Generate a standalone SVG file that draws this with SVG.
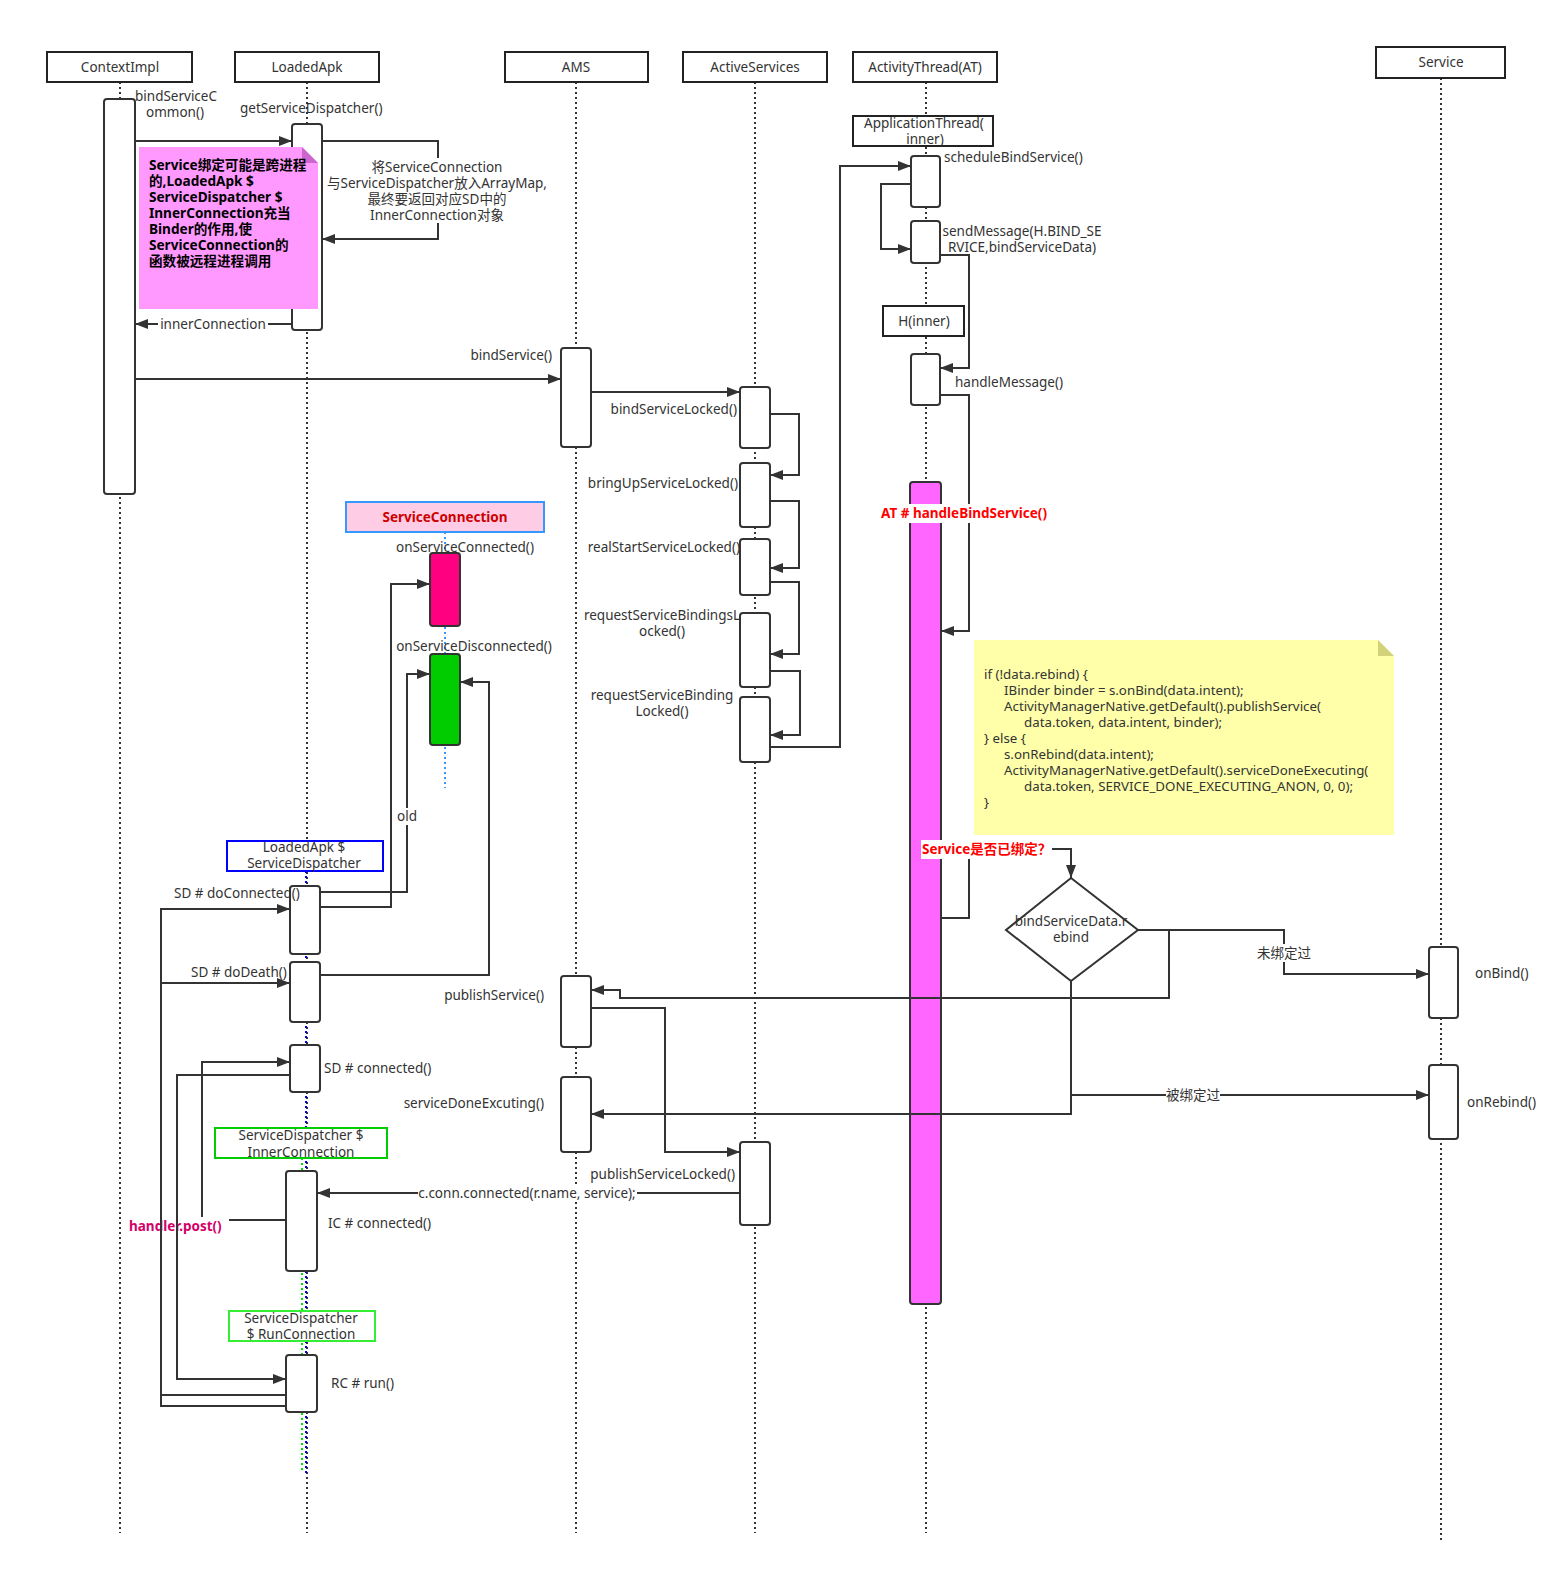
<svg xmlns="http://www.w3.org/2000/svg" width="1568" height="1576" viewBox="0 0 1568 1576">
<style>
text{font-family:"Noto Sans","Noto Sans CJK SC",sans-serif;font-size:13.5px;fill:#333}
.hdr{fill:#fff;stroke:#222;stroke-width:2}
.life{stroke:#333;stroke-width:2;stroke-dasharray:2 3;fill:none}
.act{fill:#fff;stroke:#333;stroke-width:2}
.c{fill:none;stroke:#333;stroke-width:2}
.a{fill:none;stroke:#333;stroke-width:2;marker-end:url(#arr)}
.bg{fill:#fff}
.m{text-anchor:middle}
.e{text-anchor:end}
.b{font-weight:bold}
.red{fill:#ff0000;font-weight:bold}
.code{font-size:13.3px}
.pn{font-size:13.6px;font-weight:bold;fill:#000}
</style>
<defs>
<marker id="arr" markerUnits="userSpaceOnUse" markerWidth="13" markerHeight="10" refX="13" refY="5" orient="auto">
<path d="M0,0 L13,5 L0,10 z" fill="#333"/>
</marker>
</defs>
<rect width="1568" height="1576" fill="#fff"/>

<g id="lifelines">
<line class="life" x1="120" y1="82" x2="120" y2="1533"/>
<line class="life" x1="307" y1="82" x2="307" y2="1533"/>
<line class="life" x1="576" y1="82" x2="576" y2="1533"/>
<line class="life" x1="755" y1="82" x2="755" y2="1533"/>
<line class="life" x1="926" y1="82" x2="926" y2="1533"/>
<line class="life" x1="1441" y1="78" x2="1441" y2="1543"/>
<line x1="306" y1="871" x2="306" y2="1473" stroke="#0000ff" stroke-width="2" stroke-dasharray="2 3"/>
<line x1="302" y1="1158" x2="302" y2="1473" stroke="#00dd00" stroke-width="2" stroke-dasharray="2 3"/>
<line x1="445" y1="532" x2="445" y2="788" stroke="#3399ff" stroke-width="2" stroke-dasharray="2 3"/>
</g>

<g id="ContextImpl">
<rect class="hdr" x="47" y="52" width="145" height="30"/>
<text class="m" x="120" y="72">ContextImpl</text>
<rect class="act" x="104" y="99" width="31" height="395" rx="3"/>
</g>
<g id="LoadedApk">
<rect class="hdr" x="235" y="52" width="144" height="30"/>
<text class="m" x="307" y="72">LoadedApk</text>
<rect class="act" x="292" y="124" width="30" height="206" rx="3"/>
</g>
<g id="AMS">
<rect class="hdr" x="505" y="52" width="143" height="30"/>
<text class="m" x="576" y="72">AMS</text>
<rect class="act" x="561" y="348" width="30" height="99" rx="3"/>
<rect class="act" x="561" y="976" width="30" height="71" rx="3"/>
<rect class="act" x="561" y="1077" width="30" height="75" rx="3"/>
</g>
<g id="ActiveServices">
<rect class="hdr" x="683" y="52" width="144" height="30"/>
<text class="m" x="755" y="72">ActiveServices</text>
<rect class="act" x="740" y="387" width="30" height="61" rx="3"/>
<rect class="act" x="740" y="463" width="30" height="64" rx="3"/>
<rect class="act" x="740" y="539" width="30" height="56" rx="3"/>
<rect class="act" x="740" y="613" width="30" height="74" rx="3"/>
<rect class="act" x="740" y="697" width="30" height="65" rx="3"/>
<rect class="act" x="740" y="1142" width="30" height="83" rx="3"/>
</g>
<g id="ActivityThread">
<rect class="hdr" x="853" y="52" width="144" height="30"/>
<text class="m" x="925" y="72">ActivityThread(AT)</text>
<rect class="hdr" x="853" y="116" width="140" height="30"/>
<text class="m" x="924" y="128">ApplicationThread(</text>
<text class="m" x="925" y="144">inner)</text>
<rect class="act" x="911" y="156" width="29" height="51" rx="3"/>
<rect class="act" x="911" y="221" width="29" height="42" rx="3"/>
<rect class="hdr" x="883" y="306" width="81" height="30"/>
<text class="m" x="924" y="326">H(inner)</text>
<rect class="act" x="911" y="354" width="29" height="51" rx="3"/>
<rect x="910" y="482" width="31" height="822" rx="3" fill="#ff66ff" stroke="#333" stroke-width="2"/>
</g>
<g id="Service">
<rect class="hdr" x="1376" y="47" width="129" height="31"/>
<text class="m" x="1441" y="67">Service</text>
<rect class="act" x="1429" y="947" width="29" height="71" rx="3"/>
<rect class="act" x="1429" y="1065" width="29" height="74" rx="3"/>
</g>
<g id="ServiceConnection">
<rect x="346" y="502" width="198" height="30" fill="#ffcce6" stroke="#3399ff" stroke-width="2"/>
<text class="m" x="445" y="522" style="fill:#cc0000;font-weight:bold">ServiceConnection</text>
<rect x="430" y="553" width="30" height="73" rx="3" fill="#ff0080" stroke="#333" stroke-width="2"/>
<rect x="430" y="654" width="30" height="91" rx="3" fill="#00cc00" stroke="#333" stroke-width="2"/>
</g>
<g id="ServiceDispatcher">
<rect x="227" y="841" width="156" height="30" fill="#fff" stroke="#0000ff" stroke-width="2"/>
<text class="m" x="304" y="852">LoadedApk $</text>
<text class="m" x="304" y="868">ServiceDispatcher</text>
<rect class="act" x="290" y="886" width="30" height="68" rx="3"/>
<rect class="act" x="290" y="962" width="30" height="60" rx="3"/>
<rect class="act" x="290" y="1045" width="30" height="47" rx="3"/>
</g>
<g id="InnerConnection">
<rect x="215" y="1128" width="172" height="30" fill="#fff" stroke="#00cc00" stroke-width="2"/>
<text class="m" x="301" y="1140">ServiceDispatcher $</text>
<text class="m" x="301" y="1157">InnerConnection</text>
<rect class="act" x="286" y="1171" width="31" height="100" rx="3"/>
</g>
<g id="RunConnection">
<rect x="229" y="1311" width="146" height="30" fill="#fff" stroke="#33ee33" stroke-width="2"/>
<text class="m" x="301" y="1323">ServiceDispatcher</text>
<text class="m" x="301" y="1339">$ RunConnection</text>
<rect class="act" x="286" y="1355" width="31" height="57" rx="3"/>
</g>

<g id="note-pink">
<path d="M139,147 H302 L318,163 V309 H139 z" fill="#ff99ff"/>
<path d="M302,147 L318,163 H302 z" fill="#cc66cc"/>
<text x="149" y="170" class="pn">Service绑定可能是跨进程</text>
<text x="149" y="186" class="pn">的,LoadedApk $</text>
<text x="149" y="202" class="pn">ServiceDispatcher $</text>
<text x="149" y="218" class="pn">InnerConnection充当</text>
<text x="149" y="234" class="pn">Binder的作用,使</text>
<text x="149" y="250" class="pn">ServiceConnection的</text>
<text x="149" y="266" class="pn">函数被远程进程调用</text>
</g>

<g id="note-code">
<path d="M974,640 H1378 L1394,656 V835 H974 z" fill="#ffffaa"/>
<path d="M1378,640 L1394,656 H1378 z" fill="#d2d27a"/>
<text class="code" x="984" y="679">if (!data.rebind) {</text>
<text class="code" x="1004" y="695">IBinder binder = s.onBind(data.intent);</text>
<text class="code" x="1004" y="711">ActivityManagerNative.getDefault().publishService(</text>
<text class="code" x="1024" y="727">data.token, data.intent, binder);</text>
<text class="code" x="984" y="743">} else {</text>
<text class="code" x="1004" y="759">s.onRebind(data.intent);</text>
<text class="code" x="1004" y="775">ActivityManagerNative.getDefault().serviceDoneExecuting(</text>
<text class="code" x="1024" y="791">data.token, SERVICE_DONE_EXECUTING_ANON, 0, 0);</text>
<text class="code" x="984" y="807">}</text>
</g>

<g id="decision">
<path d="M1071,878 L1138,930 L1071,981 L1006,930 z" fill="#fff" stroke="#333" stroke-width="2"/>
<text class="m" x="1071" y="926">bindServiceData.r</text>
<text class="m" x="1071" y="942">ebind</text>
</g>

<g id="connectors">
<path class="a" d="M135,141 H292"/>
<path class="a" d="M322,141 H438 V239 H322"/>
<path class="a" d="M292,324 H135"/>
<path class="a" d="M135,379 H561"/>
<path class="a" d="M591,392 H740"/>
<path class="a" d="M770,414 H799 V475 H770"/>
<path class="a" d="M770,501 H799 V568 H770"/>
<path class="a" d="M770,582 H799 V654 H770"/>
<path class="a" d="M770,671 H800 V735 H770"/>
<path class="a" d="M770,747 H840 V166 H911"/>
<path class="a" d="M911,184 H881 V249 H911"/>
<path class="a" d="M940,255 H969 V368 H940"/>
<path class="a" d="M940,395 H969 V631 H941"/>
<path class="a" d="M941,918 H969 V849 H1071 V878"/>
<path class="a" d="M1138,930 H1284 V974 H1429"/>
<path class="a" d="M1138,930 H1169 V998 H620 V990 H591"/>
<path class="a" d="M1071,981 V1095 H1429"/>
<path class="a" d="M1071,1095 V1114 H591"/>
<path class="a" d="M591,1008 H665 V1152 H740"/>
<path class="a" d="M740,1193 H317"/>
<path class="a" d="M320,892 H407 V674 H430"/>
<path class="a" d="M320,907 H391 V584 H430"/>
<path class="a" d="M320,975 H489 V682 H460"/>
<path class="a" d="M286,1220 H202 V1062 H290"/>
<rect class="bg" x="128" y="1217" width="101" height="19"/>
<text x="129" y="1231" class="b" style="fill:#d4006a">handler.post()</text>
<path class="a" d="M290,1075 H177 V1379 H286"/>
<path class="a" d="M286,1395 H161 V909 H290"/>
<path class="a" d="M286,1406 H161 V983 H290"/>

<rect class="bg" x="327" y="158" width="219" height="65"/>
<text class="m" x="437" y="172">将ServiceConnection</text>
<text class="m" x="437" y="188">与ServiceDispatcher放入ArrayMap,</text>
<text class="m" x="437" y="204">最终要返回对应SD中的</text>
<text class="m" x="437" y="220">InnerConnection对象</text>
<rect class="bg" x="158" y="316" width="110" height="17"/>
<text class="m" x="213" y="329">innerConnection</text>
<rect class="bg" x="398" y="808" width="18" height="17"/>
<text class="m" x="407" y="821">old</text>
<rect class="bg" x="418" y="1185" width="219" height="17"/>
<text class="m" x="527" y="1198">c.conn.connected(r.name, service);</text>
<rect class="bg" x="879" y="504" width="181" height="19"/>
<text x="881" y="518" class="red">AT # handleBindService()</text>
<rect class="bg" x="921" y="840" width="131" height="19"/>
<text x="922" y="854" class="red">Service是否已绑定？</text>
<rect class="bg" x="1257" y="944" width="54" height="18"/>
<text class="m" x="1284" y="958">未绑定过</text>
<rect class="bg" x="1166" y="1086" width="54" height="18"/>
<text class="m" x="1193" y="1100">被绑定过</text>
</g>

<g id="labels">
<text class="m" x="176" y="101">bindServiceC</text>
<text class="m" x="175" y="117">ommon()</text>
<text x="240" y="113">getServiceDispatcher()</text>
<text class="e" x="552" y="360">bindService()</text>
<text class="e" x="737" y="414">bindServiceLocked()</text>
<text class="e" x="738" y="488">bringUpServiceLocked()</text>
<text class="e" x="740" y="552">realStartServiceLocked()</text>
<text class="m" x="662" y="620">requestServiceBindingsL</text>
<text class="m" x="662" y="636">ocked()</text>
<text class="m" x="662" y="700">requestServiceBinding</text>
<text class="m" x="662" y="716">Locked()</text>
<text x="944" y="162">scheduleBindService()</text>
<text class="m" x="1022" y="236">sendMessage(H.BIND_SE</text>
<text class="m" x="1022" y="252">RVICE,bindServiceData)</text>
<text x="955" y="387">handleMessage()</text>
<text class="m" x="465" y="552">onServiceConnected()</text>
<text class="m" x="474" y="651">onServiceDisconnected()</text>
<text x="174" y="898">SD # doConnected()</text>
<text x="191" y="977">SD # doDeath()</text>
<text x="324" y="1073">SD # connected()</text>
<text class="e" x="544" y="1000">publishService()</text>
<text class="e" x="544" y="1108">serviceDoneExcuting()</text>
<text class="e" x="735" y="1179">publishServiceLocked()</text>
<text x="328" y="1228">IC # connected()</text>
<text x="331" y="1388">RC # run()</text>
<text x="1475" y="978">onBind()</text>
<text x="1467" y="1107">onRebind()</text>
</g>
</svg>
